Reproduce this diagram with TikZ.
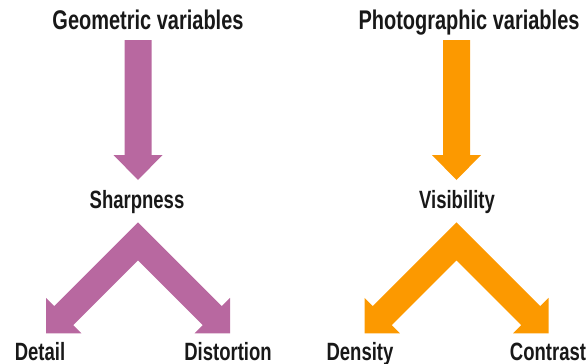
\documentclass[tikz,border=0pt]{standalone}
\usepackage{fontspec}
\setmainfont{Liberation Sans}[FakeStretch=0.74]
\begin{document}
\definecolor{mauve}{RGB}{184,104,160}
\definecolor{amber}{RGB}{252,153,0}
\definecolor{ink}{RGB}{24,24,24}
\begin{tikzpicture}[x=1pt,y=-1pt,
  title/.style={anchor=base,inner sep=0pt,text=ink,font=\fontsize{27}{27}\selectfont\bfseries},
  label/.style={anchor=base,inner sep=0pt,text=ink,font=\fontsize{25}{25}\selectfont\bfseries},
  % straight block arrow pointing down, origin at the top centre of the shaft
  pics/downarrow/.style={code={
    \fill[#1] (-13.5,0) -- (13.5,0) -- (13.5,115) -- (24.5,115) -- (0,140)
      -- (-24.5,115) -- (-13.5,115) -- cycle;}},
  % forked block arrow, origin at the outer apex
  pics/fork/.style={code={
    \fill[#1] (0,0) -- (83.8,83.84) -- (92,75.64) -- (92,111) -- (56.64,111)
      -- (64.84,102.8) -- (0,38) -- (-64.84,102.8) -- (-56.64,111) -- (-92,111)
      -- (-92,75.64) -- (-83.8,83.84) -- cycle;}}]
\useasboundingbox (0,0) rectangle (587,364);

% left column: geometric side
\node[title] (geo) at (148,30) {Geometric variables};
\pic (geoarrow) at (138,40) {downarrow=mauve};
\node[label] (sharp) at (137,208) {Sharpness};
\pic (sharpfork) at (138,222.3) {fork=mauve};
\node[label] (detail) at (40,360) {Detail};
\node[label] (distortion) at (228,360) {Distortion};

% right column: photographic side
\node[title] (photo) at (469,30) {Photographic variables};
\pic (photoarrow) at (456.5,40) {downarrow=amber};
\node[label] (vis) at (457,208) {Visibility};
\pic (visfork) at (456.5,222.3) {fork=amber};
\node[label] (density) at (360,360) {Density};
\node[label] (contrast) at (548,360) {Contrast};
\end{tikzpicture}
\end{document}
